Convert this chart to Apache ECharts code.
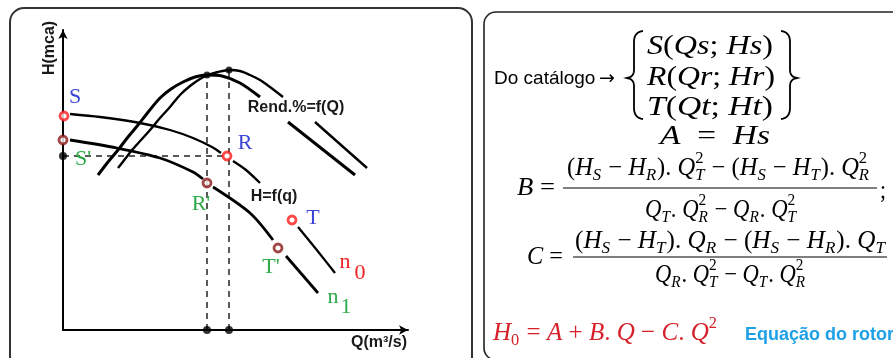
<!DOCTYPE html>
<html><head><meta charset="utf-8">
<script src="https://cdn.jsdelivr.net/npm/echarts@6/dist/echarts.min.js"></script>
<style>html,body{margin:0;padding:0;background:#fff}#c{width:893px;height:358px}</style>
</head><body><div id="c"></div><script>
// ---- Diagram data (units: Q to the right of the H axis, H above the Q axis) ----
const n0Segments = [
  [[7,216],[37,213],[77,207],[107,200],[130,192],[149,183],[158,177]],
  [[170,169],[183,160],[197,147]],
  [[235,103],[253,81],[272,57]]
];
const n1Segments = [
  [[7,190],[54,182],[97,172],[130,158],[140,151]],
  [[150,143],[187,117],[210,90]],
  [[223,74],[255,37]]
];
const eff1Segments = [
  [[35,155],[45,168],[55,180],[65,193],[75,205],[86,219],[97,232],[108,241],[120,248],[132,253],[144,255],[159,254],[177,247],[197,233]],
  [[225,208],[292,155]]
];
const eff2Segments = [
  [[55,162],[62,171],[69,180],[79,191],[87,200],[97,212],[107,223],[117,235],[127,244],[137,251],[145,255],[155,258],[166,260],[177,259],[187,255],[197,250],[207,243],[220,233]],
  [[252,208],[304,162]]
];
const n0Points = [[1,214],[164,174],[229,110]];   // S, R, T
const n1Points = [[0,190],[144,147],[215,82]];    // S', R', T'
const peakPoints = [[144,255],[166,260]];
const axisDots = [[0,174],[144,0],[166,0]];
const dashH = [[0,174],[164,174]];
const dashV1 = [[144,0],[144,255]];
const dashV2 = [[166,0],[166,260]];

// ---- helpers ----
const cv = document.createElement('canvas').getContext('2d');
function measure(t, f){ cv.font = f; return cv.measureText(t).width; }
function txt(x, y, text, font, color, extra){
  return Object.assign({type:'text', x:x, y:y, z:50,
    style:{text:text, font:font, fill:color, textAlign:'center', textVerticalAlign:'middle', align:'center', verticalAlign:'middle'}}, extra||{});
}
const SER = '22px "Liberation Serif", serif';
const BOLD = 'bold 16px "Liberation Sans", Arial, sans-serif';
const BLUE = '#3b46d6', GREEN = '#2eaa48', RED = '#ee2020';

const MF = '"Liberation Serif", serif';
function fontOf(size, it){ return (it ? 'italic ' : '') + size + 'px ' + MF; }
function parseMath(s){
  const out = []; let i = 0;
  while (i < s.length){
    const c = s[i];
    if (c === '_'){ const sub = s[i+1]; i += 2; let sup = null; if (s[i] === '^'){ sup = s[i+1]; i += 2; } out.push({sub:sub, sup:sup}); }
    else if (c === '^'){ out.push({sup:s[i+1]}); i += 2; }
    else { out.push({ch:c}); i++; }
  }
  return out;
}
function mathRow(str, x0, x1, cy, color, size){
  const MAIN = size || 25, SMALL = Math.round(MAIN * 0.66);
  const toks = parseMath(str);
  const pieces = []; let cur = 0; let run = null;
  const flush = () => { if (run){ const f = fontOf(MAIN, run.it); pieces.push({t:run.t, x:cur, dy:0, f:f}); cur += measure(run.t, f); run = null; } };
  toks.forEach(t => {
    if (t.ch !== undefined){
      const it = /[A-Za-z]/.test(t.ch);
      if (run && run.it === it) run.t += t.ch; else { flush(); run = {t:t.ch, it:it}; }
    } else {
      flush(); let w = 0;
      if (t.sub){ const f = fontOf(SMALL, /[A-Za-z]/.test(t.sub)); pieces.push({t:t.sub, x:cur, dy:MAIN*0.3, f:f}); w = Math.max(w, measure(t.sub, f)); }
      if (t.sup){ const f = fontOf(SMALL, false); pieces.push({t:t.sup, x:cur, dy:-MAIN*0.36, f:f}); w = Math.max(w, measure(t.sup, f)); }
      cur += w + 1;
    }
  });
  flush();
  const k = (x1 - x0) / cur;
  return pieces.map(p => ({type:'text', x:x0 + p.x*k, y:cy + p.dy, scaleX:k, z:50,
    style:{text:p.t, font:p.f, fill:color, textAlign:'left', textVerticalAlign:'middle', align:'left', verticalAlign:'middle'}}));
}
function quad(p0, c, p1, n){
  const pts = [];
  for (let i = 0; i <= n; i++){ const t = i/n, a = (1-t)*(1-t), b = 2*(1-t)*t, d = t*t;
    pts.push([a*p0[0]+b*c[0]+d*p1[0], a*p0[1]+b*c[1]+d*p1[1]]); }
  return pts;
}
function brace(tipX, stemX, endX){
  return [].concat(
    quad([endX,31],[stemX,32],[stemX,42],8),
    quad([stemX,70],[stemX,77],[tipX,78],6),
    quad([tipX,78],[stemX,79],[stemX,86],6),
    quad([stemX,108],[stemX,118],[endX,119],8));
}

// ---- series ----
const series = [];
function addSegs(segs, w){
  segs.forEach(s => series.push({type:'line', data:s, smooth:0.3, showSymbol:false, symbol:'none', silent:true,
    lineStyle:{color:'#000', width:w}, z:3}));
}
addSegs(n0Segments, 2.3);
addSegs(n1Segments, 2.8);
addSegs(eff1Segments, 3);
addSegs(eff2Segments, 2.4);
[dashH, dashV1, dashV2].forEach(d => series.push({type:'line', data:d, showSymbol:false, symbol:'none',
  lineStyle:{color:'#222', width:1.5, type:[6,5]}, z:2}));
series.push({type:'scatter', data:peakPoints, symbolSize:7, itemStyle:{color:'#000'}, z:6});
series.push({type:'scatter', data:axisDots, symbolSize:8, itemStyle:{color:'#000'}, z:6});
series.push({type:'scatter', data:n0Points, symbolSize:8, itemStyle:{color:'#fff', borderColor:'#ff1a1a', borderWidth:2.8}, z:7});
series.push({type:'scatter', data:n1Points, symbolSize:8, itemStyle:{color:'#fff', borderColor:'#8a1616', borderWidth:2.8}, z:7});

// ---- graphic (frames, labels, formulas) ----
const g = [];
g.push({type:'rect', shape:{x:10, y:8, width:462, height:400, r:14}, style:{fill:'none', stroke:'#333', lineWidth:2}, z:1});
g.push({type:'rect', shape:{x:484, y:12, width:440, height:348, r:12}, style:{fill:'none', stroke:'#222', lineWidth:1.6}, z:1});
g.push(txt(75,97,'S',SER,BLUE));
g.push(txt(83,159,"S'",SER,GREEN));
g.push(txt(245,143,'R',SER,BLUE));
g.push(txt(201,204,"R'",SER,GREEN));
g.push(txt(313,218,'T',SER,BLUE));
g.push(txt(271,267,"T'",SER,GREEN));
g.push(txt(345,262,'n',SER,RED));
g.push(txt(360,273,'0',SER,RED));
g.push(txt(333,297,'n',SER,GREEN));
g.push(txt(346,307,'1',SER,GREEN));
g.push(txt(296,108,'Rend.%=f(Q)',BOLD,'#1a1a1a'));
g.push(txt(274,197,'H=f(q)',BOLD,'#1a1a1a'));
g.push(txt(50,48,'H(mca)',BOLD,'#1a1a1a',{rotation:Math.PI/2}));
g.push(txt(379,343,'Q(m³/s)',BOLD,'#1a1a1a'));

g.push({type:'text', x:494, y:79, z:50, style:{text:'Do catálogo', font:'19px "Liberation Sans", Arial, sans-serif', fill:'#000', textAlign:'left', textVerticalAlign:'middle', align:'left', verticalAlign:'middle'}});
g.push({type:'text', x:599, y:79, z:50, style:{text:'→', font:'19px "DejaVu Sans", sans-serif', fill:'#000', textAlign:'left', textVerticalAlign:'middle', align:'left', verticalAlign:'middle'}});
g.push({type:'polyline', shape:{points:brace(627,634,643)}, style:{fill:null, stroke:'#000', lineWidth:1.8}, z:50});
g.push({type:'polyline', shape:{points:brace(797,790,781)}, style:{fill:null, stroke:'#000', lineWidth:1.8}, z:50});
g.push(...mathRow('S(Qs; Hs)', 647, 773, 47, '#000', 27));
g.push(...mathRow('R(Qr; Hr)', 647, 775, 78, '#000', 27));
g.push(...mathRow('T(Qt; Ht)', 647, 773, 108, '#000', 27));
g.push(...mathRow('A  =  Hs', 660, 770, 137, '#000', 27));
g.push(...mathRow('(H_S − H_R). Q_T^2 − (H_S − H_T). Q_R^2', 567, 870, 168, '#000'));
g.push(...mathRow('B =', 517, 555, 188, '#000'));
g.push({type:'line', shape:{x1:563, y1:188, x2:877, y2:188}, style:{stroke:'#000', lineWidth:1.2}, z:50});
g.push(...mathRow(';', 880, 886, 191, '#000'));
g.push(...mathRow('Q_T. Q_R^2 − Q_R. Q_T^2', 645, 797, 210, '#000'));
g.push(...mathRow('C =', 527, 563, 257, '#000'));
g.push(...mathRow('(H_S − H_T). Q_R − (H_S − H_R). Q_T', 575, 886, 241, '#000'));
g.push({type:'line', shape:{x1:573, y1:257, x2:887, y2:257}, style:{stroke:'#000', lineWidth:1.2}, z:50});
g.push(...mathRow('Q_R. Q_T^2 − Q_T. Q_R^2', 655, 806, 275, '#000'));
g.push(...mathRow('H_0 = A + B. Q − C. Q^2', 493, 718, 333, '#d6202a', 26));
g.push({type:'text', x:745, y:335, z:50, style:{text:'Equação do rotor', font:'bold 18px "Liberation Sans", Arial, sans-serif', fill:'#1ea0e6', textAlign:'left', textVerticalAlign:'middle', align:'left', verticalAlign:'middle'}});

const chart = echarts.init(document.getElementById('c'), null, {renderer:'canvas'});
chart.setOption({
  animation:false,
  backgroundColor:'#fff',
  grid:{left:63, top:30, width:345, height:300},
  xAxis:{type:'value', min:0, max:345, axisLine:{show:true, lineStyle:{color:'#000', width:2}, symbol:['none','arrow'], symbolSize:[7,9]},
    axisTick:{show:false}, axisLabel:{show:false}, splitLine:{show:false}},
  yAxis:{type:'value', min:0, max:300, axisLine:{show:true, lineStyle:{color:'#000', width:2}, symbol:['none','arrow'], symbolSize:[7,9]},
    axisTick:{show:false}, axisLabel:{show:false}, splitLine:{show:false}},
  series:series,
  graphic:{elements:g}
});
</script></body></html>
